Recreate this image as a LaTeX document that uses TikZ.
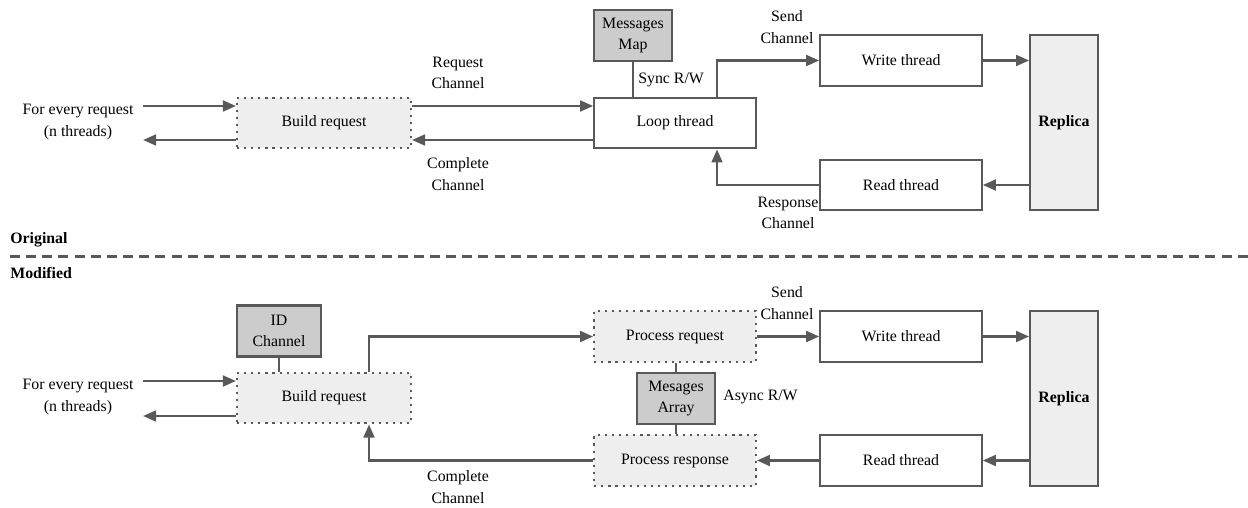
\documentclass[tikz,border=0pt]{standalone}
\usepackage{fontspec}
\setmainfont{Liberation Serif}
\usetikzlibrary{arrows.meta,positioning}
\definecolor{linec}{HTML}{595959}
\definecolor{lightf}{HTML}{EEEEEE}
\definecolor{darkf}{HTML}{CCCCCC}

\begin{document}
\begin{tikzpicture}[%
    x=0.65pt,
    y=-0.65pt,
    to/.style={-{Triangle[length=8.5pt,width=7pt]}, line width=1.6pt, draw=linec},
    link/.style={line width=1.6pt, draw=linec},
    base/.style={draw=linec, align=center, font=\fontsize{10.3}{14}\selectfont, inner sep=0pt},
    thr/.style={base, rectangle, line width=1.3pt, fill=white, minimum width=105pt, minimum height=33pt},
    proc/.style={base, rectangle, line width=1.4pt, dash pattern=on 1.4pt off 3.2pt, fill=lightf, minimum width=105pt, minimum height=33pt},
    store/.style={base, rectangle, line width=1.5pt, fill=darkf, minimum width=51pt, minimum height=33pt},
    repl/.style={base, rectangle, line width=1.3pt, fill=lightf, minimum width=44pt, minimum height=113.75pt, font=\fontsize{10.3}{14}\selectfont\bfseries},
    lbl/.style={align=center, font=\fontsize{10.3}{14}\selectfont, inner sep=0pt}
    ]
    \useasboundingbox (0,0) rectangle (1248,508);

    % original
    \node at (78,122) [lbl] (req1) {For every request\\(n threads)};
    \node at (324,123) [proc, minimum width=113pt] (build1) {Build request};
    \node at (675,123) [thr] (loop) {Loop thread};
    \node at (633,35.5) [store] (msgmap) {Messages\\Map};
    \node at (901,60.5) [thr] (write1) {Write thread};
    \node at (901,185) [thr] (read1) {Read thread};
    \node at (1064,122.5) [repl] (rep1) {Replica};

    \coordinate (in1) at (143,106);
    \coordinate (out1) at (143,140);
    \coordinate (sendx) at (717,0);
        \draw[to] (in1) -- (in1 -| build1.west);
        \draw[to] (out1 -| build1.west) -- (out1);
        \draw[to] (in1 -| build1.east) -- (in1 -| loop.west);
        \draw[to] (out1 -| loop.west) -- (out1 -| build1.east);
        \draw[link] (msgmap) -- (msgmap |- loop.north);
        \draw[to] (loop.north -| sendx) |- (write1.west);
        \draw[to] (write1.east) -- (write1.east -| rep1.west);
        \draw[to] (read1.east -| rep1.west) -- (read1.east);
        \draw[to] (read1.west) -| (loop.south -| sendx);

    \node at (458,73) [lbl] (reqch) {Request\\Channel};
    \node at (458,174) [lbl] (compch1) {Complete\\Channel};
    \node at (638,80) [lbl, anchor=west] (sync) {Sync R/W};
    \node at (787,27) [lbl] (sendch1) {Send\\Channel};
    \node at (788,213) [lbl] (respch) {Response\\Channel};

    % separator
    \node at (10,240) [lbl, anchor=west, font=\fontsize{10.3}{14}\selectfont\bfseries] (orig) {Original};
    \node at (10,273) [lbl, anchor=west, font=\fontsize{10.3}{14}\selectfont\bfseries] (modi) {Modified};
    \draw[linec, line width=1.5pt, dash pattern=on 6.5pt off 4pt] (10,256.5) -- (1248,256.5);

    % modified
    \node at (78,397) [lbl] (req2) {For every request\\(n threads)};
    \node at (279,331) [store, minimum width=54.6pt] (idch) {ID\\Channel};
    \node at (324,398) [proc, minimum width=113pt] (build2) {Build request};
    \node at (675,336.5) [proc] (preq) {Process request};
    \node at (676,398.5) [store] (msgarr) {Mesages\\Array};
    \node at (675,460.5) [proc] (presp) {Process response};
    \node at (901,336.5) [thr] (write2) {Write thread};
    \node at (901,460.5) [thr] (read2) {Read thread};
    \node at (1064,398.5) [repl] (rep2) {Replica};

    \coordinate (in2) at (143,381);
    \coordinate (out2) at (143,416);
    \coordinate (brx) at (369,0);
        \draw[to] (in2) -- (in2 -| build2.west);
        \draw[to] (out2 -| build2.west) -- (out2);
        \draw[link] (idch) -- (idch |- build2.north);
        \draw[to] (build2.north -| brx) |- (preq.west);
        \draw[link] (preq.south -| msgarr) -- (msgarr.north);
        \draw[link] (msgarr.south) -- (presp.north -| msgarr);
        \draw[to] (preq.east) -- (write2.west);
        \draw[to] (write2.east) -- (write2.east -| rep2.west);
        \draw[to] (read2.east -| rep2.west) -- (read2.east);
        \draw[to] (read2.west) -- (presp.east);
        \draw[to] (presp.west) -| (build2.south -| brx);

    \node at (787,303) [lbl] (sendch2) {Send\\Channel};
    \node at (723,397) [lbl, anchor=west] (async) {Async R/W};
    \node at (458,487) [lbl] (compch2) {Complete\\Channel};

\end{tikzpicture}
\end{document}
